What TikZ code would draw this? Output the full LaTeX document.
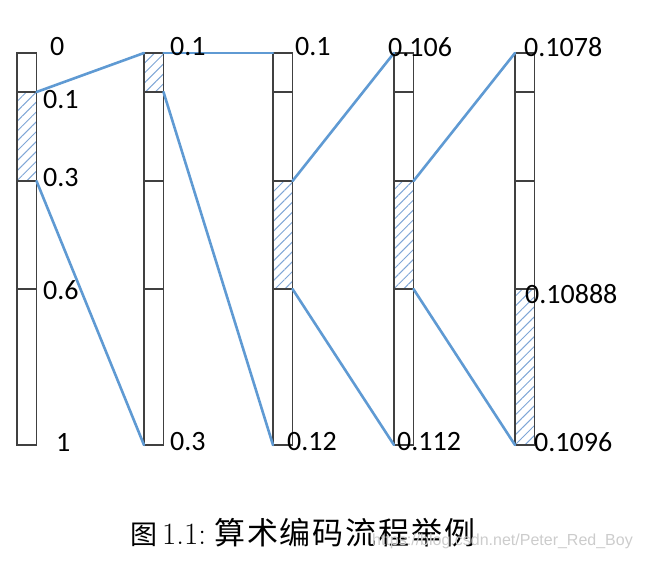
\documentclass[tikz,border=0pt]{standalone}
\usepackage{fontspec}
\setmainfont{Carlito}
\newfontfamily\cjk{Noto Sans CJK SC}
\newfontfamily\cjkwide[LetterSpace=6]{Noto Sans CJK SC}
\newfontfamily\lmr{Latin Modern Roman}
\newfontfamily\wmfont{Liberation Sans}
\usetikzlibrary{patterns.meta}
\definecolor{barline}{HTML}{404040}
\definecolor{linkblue}{HTML}{5F9AD3}
\definecolor{hatchblue}{HTML}{7FA6D6}
\begin{document}
\begin{tikzpicture}[x=1pt,y=-1pt,
  bar/.style={draw=barline,line width=1.6pt},
  hatched/.style={pattern={Lines[angle=45,distance=7pt,line width=1pt]},pattern color=hatchblue},
  link/.style={draw=linkblue,line width=2.6pt,line cap=round},
  lbl/.style={anchor=west,inner sep=0pt,font=\fontsize{28}{28}\selectfont}]
\useasboundingbox (0,0) rectangle (649,564);
% bar coordinates
\foreach \i/\x in {1/17,2/144,3/273,4/394,5/515}{
  \coordinate (b\i-tl) at (\x,53);
  \coordinate (b\i-tr) at (\x+19.5,53);
  \coordinate (b\i-1l) at (\x,92);
  \coordinate (b\i-1r) at (\x+19.5,92);
  \coordinate (b\i-2l) at (\x,181);
  \coordinate (b\i-2r) at (\x+19.5,181);
  \coordinate (b\i-3l) at (\x,289);
  \coordinate (b\i-3r) at (\x+19.5,289);
  \coordinate (b\i-bl) at (\x,445);
  \coordinate (b\i-br) at (\x+19.5,445);
}
% hatched intervals
\fill[hatched] (b1-1l) rectangle (b1-2r);
\fill[hatched] (b2-tl) rectangle (b2-1r);
\fill[hatched] (b3-2l) rectangle (b3-3r);
\fill[hatched] (b4-2l) rectangle (b4-3r);
\fill[hatched] (b5-3l) rectangle (b5-br);
% bars
\foreach \i in {1,...,5}{
  \draw[bar] (b\i-tl) rectangle (b\i-br);
  \draw[bar] (b\i-1l) -- (b\i-1r);
  \draw[bar] (b\i-2l) -- (b\i-2r);
  \draw[bar] (b\i-3l) -- (b\i-3r);
}
% links
\draw[link] (b1-1r) -- (b2-tl);
\draw[link] (b1-2r) -- (b2-bl);
\draw[link] (b2-tr) -- (b3-tl);
\draw[link] (b2-1r) -- (b3-bl);
\draw[link] (b3-2r) -- (b4-tl);
\draw[link] (b3-3r) -- (b4-bl);
\draw[link] (b4-2r) -- (b5-tl);
\draw[link] (b4-3r) -- (b5-bl);
% labels
\node[lbl] (l10) at (50,47) {0};
\node[lbl] (l11) at (43,100) {0.1};
\node[lbl] (l12) at (43,178) {0.3};
\node[lbl] (l13) at (43,290) {0.6};
\node[lbl] (l14) at (56,442) {1};
\node[lbl] (l20) at (170,47) {0.1};
\node[lbl] (l21) at (170,442) {0.3};
\node[lbl] (l30) at (295,47) {0.1};
\node[lbl] (l31) at (287,442) {0.12};
\node[lbl] (l40) at (388,47) {0.106};
\node[lbl] (l41) at (397,442) {0.112};
\node[lbl] (l50) at (524,47) {0.1078};
\node[lbl] (l51) at (525,294) {0.10888};
\node[lbl] (l52) at (534,442) {0.1096};
% caption
\node[anchor=base west,inner sep=0pt,font=\cjk\fontsize{27}{27}\selectfont] (capfig) at (130,544) {图};
\node[anchor=base west,inner sep=0pt,font=\lmr\fontsize{31}{31}\selectfont] (capnum) at (162,544) {1.1:};
\node[anchor=base west,inner sep=0pt,font=\cjkwide\fontsize{31}{31}\selectfont] (captext) at (214,544) {算术编码流程举例};
% watermark
\node[anchor=base west,inner sep=0pt,text=black!20,font=\wmfont\fontsize{16}{16}\selectfont] (wm) at (372,546) {https://blog.csdn.net/Peter\_Red\_Boy};
\end{tikzpicture}
\end{document}
